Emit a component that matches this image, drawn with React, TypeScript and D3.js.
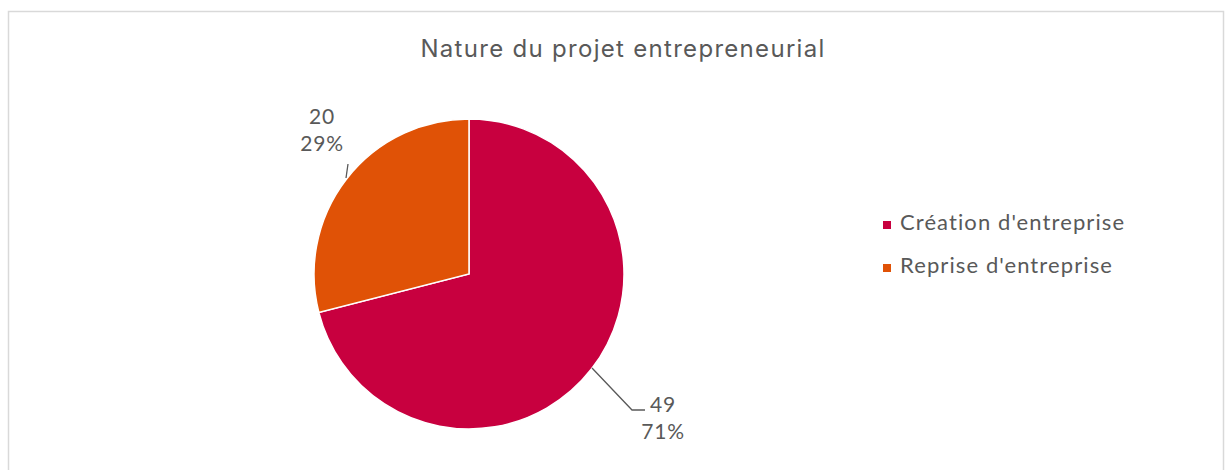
import * as d3 from 'd3';
import { useEffect, useRef } from 'react';

const categories = ["Création d'entreprise", "Reprise d'entreprise"];
const values = [49, 20];
const colors = ['#C8003F', '#E05206'];

const App = () => {
  const ref = useRef<SVGSVGElement>(null);

  useEffect(() => {
    const svg = d3.select(ref.current);
    svg.selectAll('*').remove();

    const width = 1225;
    const height = 470;
    svg.attr('width', width).attr('height', height);

    const font = 'Lato, "Noto Sans", sans-serif';
    const textColor = '#595959';

    // chart frame
    svg.append('rect')
      .attr('x', 8.5).attr('y', 11.5)
      .attr('width', 1215).attr('height', 470)
      .attr('fill', '#fff')
      .attr('stroke', '#d9d9d9')
      .attr('stroke-width', 1.5);

    svg.append('text')
      .attr('x', 623).attr('y', 57)
      .attr('text-anchor', 'middle')
      .attr('font-family', 'Inter, "Noto Sans", sans-serif')
      .attr('font-size', 24)
      .attr('letter-spacing', 1.3)
      .attr('fill', textColor)
      .text('Nature du projet entrepreneurial');

    const cx = 469, cy = 274, r = 155;
    const total = d3.sum(values);

    const pie = d3.pie<number>().sort(null)(values);
    const arc = d3.arc<d3.PieArcDatum<number>>().innerRadius(0).outerRadius(r);

    const g = svg.append('g').attr('transform', `translate(${cx},${cy})`);
    g.selectAll('path')
      .data(pie)
      .enter()
      .append('path')
      .attr('d', arc)
      .attr('fill', (_, i) => colors[i])
      .attr('stroke', '#fff')
      .attr('stroke-width', 1.5);

    // data labels with leader lines
    const labelPos = [
      { tx: 663, ty: 412, line: [[592 - cx, 368 - cy], [632 - cx, 410 - cy], [645 - cx, 410 - cy]] },
      { tx: 322, ty: 124, line: [[346 - cx, 178 - cy], [348 - cx, 164 - cy]] },
    ];

    pie.forEach((d, i) => {
      const p = labelPos[i];
      const pct = Math.round((d.data / total) * 100);
      g.append('path')
        .attr('d', d3.line()(p.line as [number, number][]))
        .attr('fill', 'none')
        .attr('stroke', '#595959')
        .attr('stroke-width', 1.3);
      const t = svg.append('text')
        .attr('text-anchor', 'middle')
        .attr('font-family', font)
        .attr('font-size', 21)
        .attr('letter-spacing', 0.8)
        .attr('fill', textColor);
      t.append('tspan').attr('x', p.tx).attr('y', p.ty).text(String(d.data));
      t.append('tspan').attr('x', p.tx).attr('y', p.ty + 27).text(`${pct}%`);
    });

    // legend
    const legend = svg.append('g').attr('transform', 'translate(883,0)');
    categories.forEach((c, i) => {
      const y = 230 + i * 43;
      legend.append('rect')
        .attr('x', 0).attr('y', y - 9)
        .attr('width', 8).attr('height', 8)
        .attr('fill', colors[i]);
      legend.append('text')
        .attr('x', 17).attr('y', y)
        .attr('font-family', font)
        .attr('font-size', 22)
        .attr('letter-spacing', 1.1)
        .attr('fill', textColor)
        .text(c);
    });
  }, []);

  return <svg ref={ref} style={{ position: 'absolute', left: 0, top: 0 }}></svg>;
};

export default App;
